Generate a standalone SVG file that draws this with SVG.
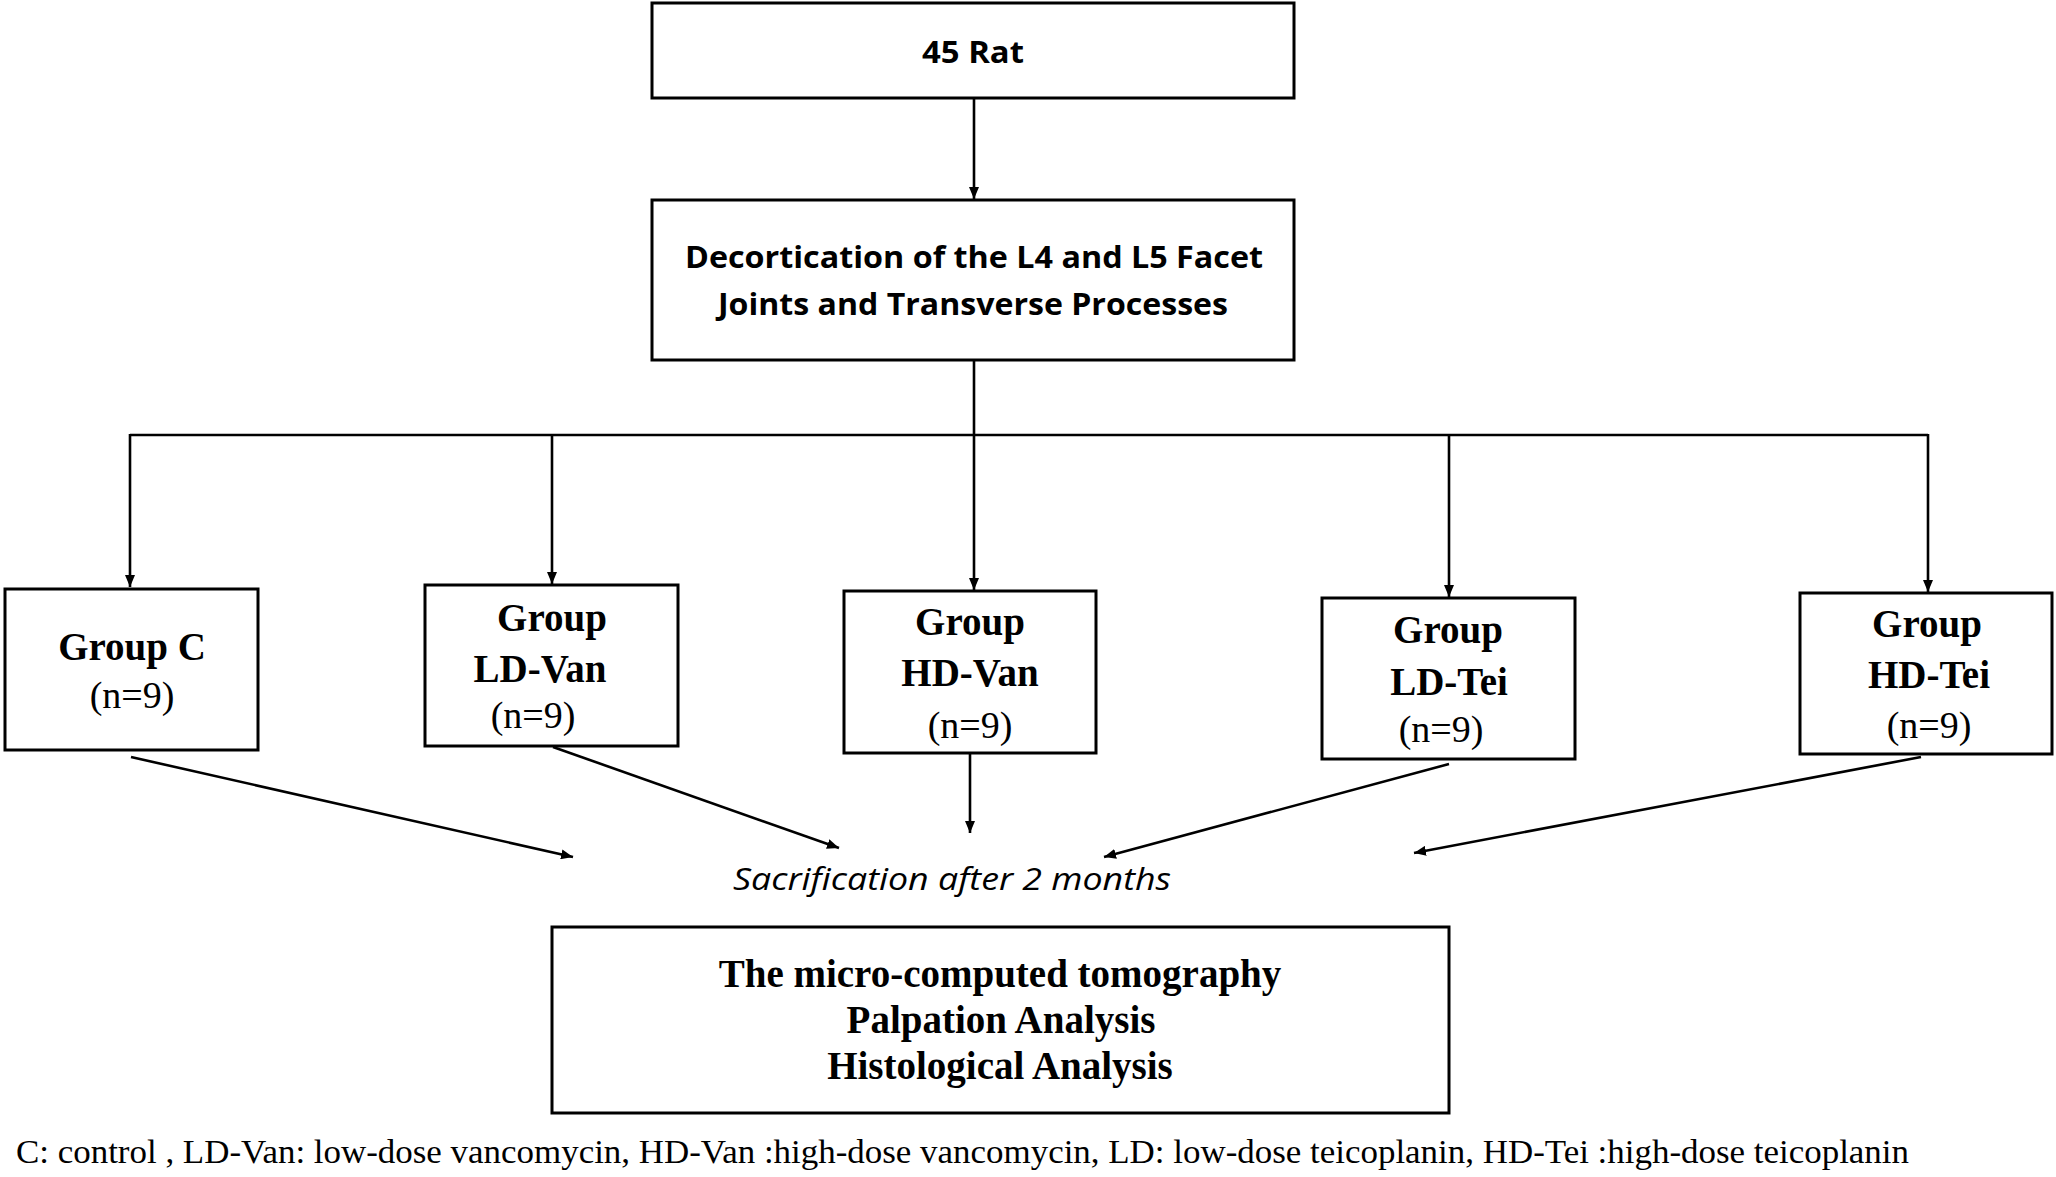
<svg xmlns="http://www.w3.org/2000/svg" width="2056" height="1177" viewBox="0 0 2056 1177">
<style>
.box{fill:#fff;stroke:#000;stroke-width:3}
.con{fill:none;stroke:#000;stroke-width:2.6}
.sans{font-family:"Open Sans","Liberation Sans",sans-serif;font-weight:700;font-size:31px;fill:#000;text-anchor:middle}
.ital{font-family:"Open Sans","Liberation Sans",sans-serif;font-style:italic;font-size:31px;fill:#000;text-anchor:middle}
.tb{font-family:"Liberation Serif","Times New Roman",serif;font-weight:700;font-size:39px;fill:#000;text-anchor:middle}
.tr{font-family:"Liberation Serif","Times New Roman",serif;font-size:38px;fill:#000;text-anchor:middle}
.foot{font-family:"Liberation Serif","Times New Roman",serif;font-size:33px;fill:#000}
</style>
<defs>
<marker id="ah" markerUnits="userSpaceOnUse" markerWidth="12" markerHeight="10" refX="12" refY="5" orient="auto">
<path d="M0,0 L12,5 L0,10 z" fill="#000"/>
</marker>
</defs>
<rect width="2056" height="1177" fill="#fff"/>
<g id="connectors">
<line class="con" x1="974" y1="98" x2="974" y2="199" marker-end="url(#ah)"/>
<line class="con" x1="974" y1="361" x2="974" y2="435"/>
<line class="con" x1="130" y1="435" x2="1928" y2="435"/>
<line class="con" x1="130" y1="434" x2="130" y2="587" marker-end="url(#ah)"/>
<line class="con" x1="552" y1="435" x2="552" y2="584" marker-end="url(#ah)"/>
<line class="con" x1="974" y1="435" x2="974" y2="590" marker-end="url(#ah)"/>
<line class="con" x1="1449" y1="435" x2="1449" y2="597" marker-end="url(#ah)"/>
<line class="con" x1="1928" y1="434" x2="1928" y2="592" marker-end="url(#ah)"/>
<line class="con" x1="131" y1="757" x2="573" y2="857" marker-end="url(#ah)"/>
<line class="con" x1="553" y1="747" x2="839" y2="848" marker-end="url(#ah)"/>
<line class="con" x1="970" y1="753" x2="970" y2="833" marker-end="url(#ah)"/>
<line class="con" x1="1449" y1="764" x2="1104" y2="857" marker-end="url(#ah)"/>
<line class="con" x1="1921" y1="757" x2="1414" y2="853" marker-end="url(#ah)"/>
</g>
<g id="node-rat">
<rect class="box" x="652" y="3" width="642" height="95"/>
<text class="sans" x="973" y="63" textLength="102" lengthAdjust="spacingAndGlyphs">45 Rat</text>
</g>
<g id="node-decortication">
<rect class="box" x="652" y="200" width="642" height="160"/>
<text class="sans" x="974" y="268" textLength="578" lengthAdjust="spacingAndGlyphs">Decortication of the L4 and L5 Facet</text>
<text class="sans" x="973" y="315" textLength="510" lengthAdjust="spacingAndGlyphs">Joints and Transverse Processes</text>
</g>
<g id="node-group-c">
<rect class="box" x="5" y="589" width="253" height="161"/>
<text class="tb" x="132" y="660">Group C</text>
<text class="tr" x="132" y="708">(n=9)</text>
</g>
<g id="node-ld-van">
<rect class="box" x="425" y="585" width="253" height="161"/>
<text class="tb" x="552" y="631">Group</text>
<text class="tb" x="540" y="682">LD-Van</text>
<text class="tr" x="533" y="728">(n=9)</text>
</g>
<g id="node-hd-van">
<rect class="box" x="844" y="591" width="252" height="162"/>
<text class="tb" x="970" y="635">Group</text>
<text class="tb" x="970" y="686">HD-Van</text>
<text class="tr" x="970" y="738">(n=9)</text>
</g>
<g id="node-ld-tei">
<rect class="box" x="1322" y="598" width="253" height="161"/>
<text class="tb" x="1448" y="643">Group</text>
<text class="tb" x="1449" y="695">LD-Tei</text>
<text class="tr" x="1441" y="742">(n=9)</text>
</g>
<g id="node-hd-tei">
<rect class="box" x="1800" y="593" width="252" height="161"/>
<text class="tb" x="1927" y="637">Group</text>
<text class="tb" x="1929" y="688">HD-Tei</text>
<text class="tr" x="1929" y="738">(n=9)</text>
</g>
<g id="label-sacrification">
<text class="ital" x="952" y="890" textLength="438" lengthAdjust="spacingAndGlyphs">Sacrification after 2 months</text>
</g>
<g id="node-analysis">
<rect class="box" x="552" y="927" width="897" height="186"/>
<text class="tb" x="1000" y="987">The micro-computed tomography</text>
<text class="tb" x="1001" y="1033">Palpation Analysis</text>
<text class="tb" x="1000" y="1079">Histological Analysis</text>
</g>
<g id="footnote">
<text class="foot" x="16" y="1163" textLength="1893" lengthAdjust="spacingAndGlyphs">C: control , LD-Van: low-dose vancomycin, HD-Van :high-dose vancomycin, LD: low-dose teicoplanin, HD-Tei :high-dose teicoplanin</text>
</g>
</svg>
